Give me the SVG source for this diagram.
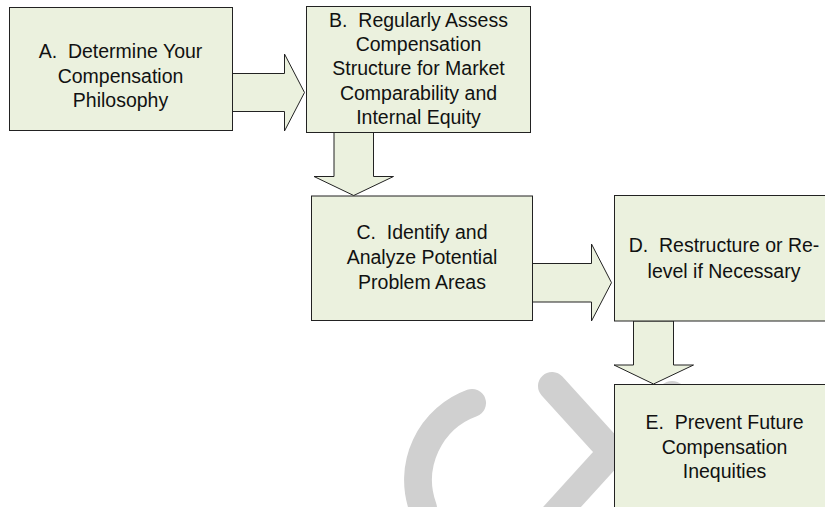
<svg xmlns="http://www.w3.org/2000/svg" width="825" height="507" viewBox="0 0 825 507">
<style>
.box{fill:#EBF1DE;stroke:#222;stroke-width:1}
.arr{fill:#EBF1DE;stroke:#222;stroke-width:1;stroke-linejoin:miter}
.t{font-family:"Liberation Sans",Arial,sans-serif;font-size:19.5px;fill:#111;text-anchor:middle;white-space:pre}
.wm{fill:none;stroke:#D0D0D0;stroke-width:28;stroke-linecap:round}
</style>
<rect width="825" height="507" fill="#FFFFFF"/>
<g id="watermark">
<path class="wm" d="M472,403 A82,82 0 0 0 423,508"/>
<path class="wm" d="M552,386 L612,452 L552,518"/>
<circle cx="672" cy="395" r="14" fill="#D0D0D0"/>
</g>
<g id="connectors">
<polygon class="arr" points="232.5,73.5 284.5,73.5 284.5,54 304.5,92.5 284.5,131 284.5,111.5 232.5,111.5"/>
<polygon class="arr" points="334,132.5 373.5,132.5 373.5,176.5 393.5,176.5 353.7,195.5 314,176.5 334,176.5"/>
<polygon class="arr" points="532.5,263.5 591.5,263.5 591.5,244 611.5,282.7 591.5,321 591.5,302 532.5,302"/>
<polygon class="arr" points="633.5,321 673.5,321 673.5,365 693.5,365 653.5,384 614,365 633.5,365"/>
</g>
<g id="nodeA">
<rect class="box" x="9.5" y="7.5" width="223" height="123"/>
<text class="t" xml:space="preserve"><tspan x="120.5" y="58">A.  Determine Your</tspan><tspan x="120.5" y="82.5">Compensation</tspan><tspan x="120.5" y="107">Philosophy</tspan></text>
</g>
<g id="nodeB">
<rect class="box" x="306.5" y="6.5" width="224" height="126"/>
<text class="t" xml:space="preserve"><tspan x="418.5" y="26.5">B.  Regularly Assess</tspan><tspan x="418.5" y="50.5">Compensation</tspan><tspan x="418.5" y="75">Structure for Market</tspan><tspan x="418.5" y="99.5">Comparability and</tspan><tspan x="418.5" y="124">Internal Equity</tspan></text>
</g>
<g id="nodeC">
<rect class="box" x="311.5" y="196" width="221" height="124.5"/>
<text class="t" xml:space="preserve"><tspan x="422" y="238.5">C.  Identify and</tspan><tspan x="422" y="263.5">Analyze Potential</tspan><tspan x="422" y="288.5">Problem Areas</tspan></text>
</g>
<g id="nodeD">
<rect class="box" x="614.5" y="195.5" width="222" height="125.5"/>
<text class="t" xml:space="preserve"><tspan x="724" y="251.5">D.  Restructure or Re-</tspan><tspan x="724" y="277.5">level if Necessary</tspan></text>
</g>
<g id="nodeE">
<rect class="box" x="614.5" y="384.5" width="222" height="140"/>
<text class="t" xml:space="preserve"><tspan x="724.5" y="428.5">E.  Prevent Future</tspan><tspan x="724.5" y="453.5">Compensation</tspan><tspan x="724.5" y="478">Inequities</tspan></text>
</g>
</svg>
